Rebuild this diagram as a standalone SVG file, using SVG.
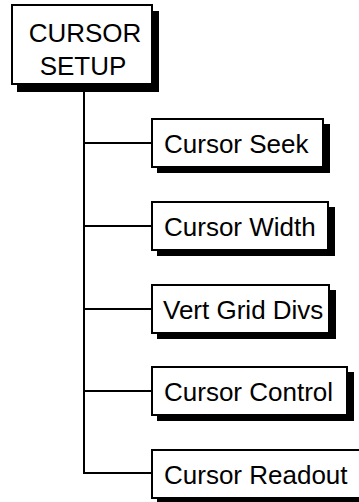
<svg xmlns="http://www.w3.org/2000/svg" width="359" height="502" viewBox="0 0 359 502">
<style>
.sh{fill:#000}
.bx{fill:#fff;stroke:#000;stroke-width:2}
.t{font-family:"Liberation Sans",Arial,sans-serif;font-size:26px;fill:#000}
.c{stroke:#000;stroke-width:2;fill:none}
</style>
<rect width="359" height="502" fill="#fff"/>
<g id="connectors">
<line class="c" x1="84" y1="85" x2="84" y2="474"/>
<line class="c" x1="83" y1="143" x2="151" y2="143"/>
<line class="c" x1="83" y1="226" x2="151" y2="226"/>
<line class="c" x1="83" y1="309" x2="151" y2="309"/>
<line class="c" x1="83" y1="391" x2="151" y2="391"/>
<line class="c" x1="83" y1="473" x2="151" y2="473"/>
</g>
<g id="cursor-setup">
<rect class="sh" x="17" y="11" width="142" height="81"/>
<rect class="bx" x="12" y="5" width="140" height="79"/>
<text class="t" x="85" y="42" text-anchor="middle">CURSOR</text>
<text class="t" x="83" y="75" text-anchor="middle">SETUP</text>
</g>
<g id="cursor-seek">
<rect class="sh" x="157" y="124" width="173" height="49"/>
<rect class="bx" x="152" y="119" width="171" height="48"/>
<text class="t" x="164" y="153">Cursor Seek</text>
</g>
<g id="cursor-width">
<rect class="sh" x="157" y="207" width="178" height="49"/>
<rect class="bx" x="152" y="202" width="176" height="48"/>
<text class="t" x="164" y="236">Cursor Width</text>
</g>
<g id="vert-grid-divs">
<rect class="sh" x="157" y="290" width="179" height="49"/>
<rect class="bx" x="152" y="285" width="177" height="48"/>
<text class="t" x="163" y="319">Vert Grid Divs</text>
</g>
<g id="cursor-control">
<rect class="sh" x="157" y="372" width="197" height="49"/>
<rect class="bx" x="152" y="367" width="195" height="48"/>
<text class="t" x="164" y="401">Cursor Control</text>
</g>
<g id="cursor-readout">
<rect class="sh" x="157" y="455" width="214" height="49"/>
<rect class="bx" x="152" y="450" width="212" height="48"/>
<text class="t" x="164" y="484">Cursor Readout</text>
</g>
</svg>
